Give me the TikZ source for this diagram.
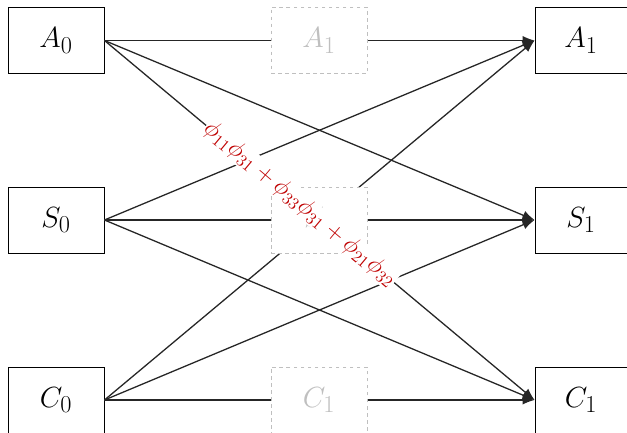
\documentclass[tikz,border=0pt]{standalone}
\usetikzlibrary{arrows.meta}
\definecolor{coefred}{RGB}{192,0,0}
\begin{document}
\begin{tikzpicture}[x=0.03cm,y=-0.03cm,
    box/.style={draw,line width=0.8pt,fill=white,minimum width=2.88cm,minimum height=1.98cm,inner sep=0pt,font=\fontsize{28}{32}\selectfont},
    ghost/.style={box,draw=black!25,dashed,line width=0.5pt,text=black!25},
    link/.style={line width=1.1pt,black!85,-{Latex[length=3.6mm,width=2.8mm]}},
    coef/.style={fill=white,inner sep=0.5pt,text=coefred,font=\fontsize{20}{24}\selectfont}]
\useasboundingbox (0,0) rectangle (627,433);

   \node[box] at (56,40.5)  (A0) {$A_0$};
   \node[box] at (56,220)  (S0) {$S_0$};
   \node[box] at (56,400)  (C0) {$C_0$};
   \node[box,minimum width=2.76cm] at (581,40.5)  (A1) {$A_1$};
   \node[box,minimum width=2.76cm] at (581,220)  (S1) {$S_1$};
   \node[box,minimum width=2.76cm] at (581,400)  (C1) {$C_1$};

   \draw[link] (A0.east) -- (A1.west);
   \draw[link] (A0.east) -- (S1.west);
   \draw[link] (A0.east) -- (C1.west);

   \draw[link] (S0.east) -- (A1.west);
   \draw[link] (S0.east) -- (S1.west);
   \draw[link] (S0.east) -- (C1.west);

   \draw[link] (C0.east) -- (A1.west);
   \draw[link] (C0.east) -- (S1.west);
   \draw[link] (C0.east) -- (C1.west);

   % hidden step in the middle
   \node[ghost] at (319,40.5)  (mA) {$A_1$};
   \node[ghost] at (319,220)  (mS) {$S_1$};
   \node[ghost] at (319,400)  (mC) {$C_1$};

   \path (A0.east) -- (C1.west) node[coef,pos=.455,sloped] {$\phi_{11}\phi_{31}+\phi_{33}\phi_{31}+\phi_{21}\phi_{32}$};

\end{tikzpicture}
\end{document}
